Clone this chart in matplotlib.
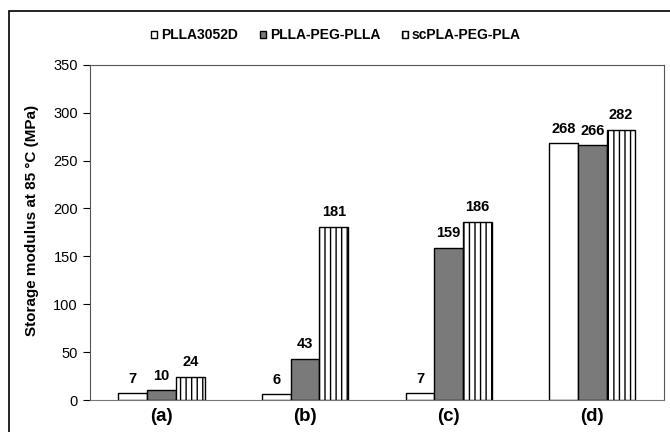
import matplotlib.pyplot as plt
import matplotlib.patches as mpatches
import numpy as np

plt.rcParams['font.family'] = ['Liberation Sans', 'DejaVu Sans']
plt.rcParams['hatch.linewidth'] = 1.0

groups = ["(a)", "(b)", "(c)", "(d)"]
series = ["PLLA3052D", "PLLA-PEG-PLLA", "scPLA-PEG-PLA"]
plla3052d = [7, 6, 7, 268]
plla_peg_plla = [10, 43, 159, 266]
scpla_peg_pla = [24, 181, 186, 282]

fig = plt.figure(figsize=(6.7, 4.32), dpi=100)
ax = fig.add_axes([0.134, 0.074, 0.857, 0.776])

x = np.arange(len(groups))
w = 0.2
styles = [dict(color="white", hatch=None),
          dict(color="#7a7a7a", hatch=None),
          dict(color="white", hatch="|||")]
values = [plla3052d, plla_peg_plla, scpla_peg_pla]
handles = []
for i, (vals, st) in enumerate(zip(values, styles)):
    bars = ax.bar(x + (i - 1) * w, vals, w, color=st["color"], hatch=st["hatch"],
                  edgecolor="black", linewidth=1.0, label=series[i])
    handles.append(bars)
    for xi, v in zip(x + (i - 1) * w, vals):
        ax.text(xi, v + 8, str(v), ha="center", va="bottom",
                fontsize=10.5, fontweight="bold")

ax.set_xlim(-0.5, 3.5)
ax.set_ylim(0, 350)
ax.set_yticks(range(0, 351, 50))
ax.set_xticks(x)
ax.set_xticklabels(groups, fontsize=13.5, fontweight="bold")
ax.tick_params(axis="x", length=0, pad=6)
ax.tick_params(axis="y", direction="out", length=5, labelsize=10.5)
ax.set_ylabel("Storage modulus at 85 °C (MPa)", fontsize=11, fontweight="bold")
ax.yaxis.set_label_coords(-0.088, 0.537)
for s in ax.spines.values():
    s.set_color("#555555")
ax.spines["bottom"].set_color("#777777")

ax.legend(handles=handles, loc="lower left", bbox_to_anchor=(0.085, 1.03),
          ncol=3, frameon=False, handlelength=0.45, handleheight=0.45,
          handletextpad=0.25, columnspacing=1.6,
          prop={"size": 10, "weight": "bold"})

# outer frame of the figure
fig.patches.append(mpatches.Rectangle((9 / 670, -0.05), 1.1, 1 - 11 / 432 + 0.05,
                                      transform=fig.transFigure, fill=False,
                                      edgecolor="black", linewidth=1.2))

fig.savefig("out.png", dpi=100)
